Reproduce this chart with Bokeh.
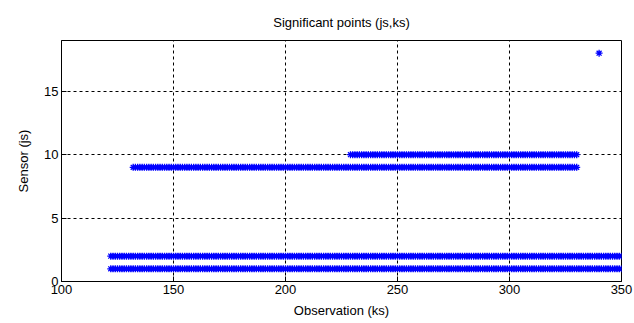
from bokeh.plotting import figure
from bokeh.models import ColumnDataSource, FixedTicker, Range1d
from bokeh.embed import file_html
from bokeh.resources import INLINE

# Significant points: each sensor row (js) is significant over a run of observations (ks)
rows_js = [1, 2, 9, 10, 18]
ks_start = [122, 122, 132, 229, 340]
ks_end = [350, 350, 330, 330, 340]

x_ticks = [100, 150, 200, 250, 300, 350]
y_ticks = [0, 5, 10, 15]

xs, ys = [], []
for js, a, b in zip(rows_js, ks_start, ks_end):
    for k in range(a, b + 1):
        xs.append(k)
        ys.append(js)

src = ColumnDataSource(dict(ks=xs, js=ys))

FONT = "Liberation Sans"

p = figure(width=634, height=323, output_backend="svg", toolbar_location=None,
           x_range=Range1d(100, 350), y_range=Range1d(0, 19),
           title="Significant points (js,ks)",
           min_border_left=61, min_border_right=13, min_border_top=40, min_border_bottom=42)

p.scatter("ks", "js", source=src, marker="asterisk", size=7, line_color="#0000ff",
          line_width=1.3)

p.title.align = "center"
p.title.text_font = FONT
p.title.text_font_size = "13px"
p.title.text_font_style = "normal"
p.title.text_color = "black"
p.title.standoff = 22

p.xaxis.ticker = FixedTicker(ticks=x_ticks)
p.yaxis.ticker = FixedTicker(ticks=y_ticks)
p.xaxis.axis_label = "Observation (ks)"
p.yaxis.axis_label = "Sensor (js)"
for ax in (p.xaxis[0], p.yaxis[0]):
    ax.axis_label_text_font = FONT
    ax.axis_label_text_font_size = "13px"
    ax.axis_label_text_font_style = "normal"
    ax.axis_label_text_color = "black"
    ax.major_label_text_font = FONT
    ax.major_label_text_font_size = "13px"
    ax.major_label_text_color = "black"
    ax.major_label_standoff = 3
    ax.major_tick_in = 5
    ax.major_tick_out = 0
    ax.minor_tick_line_color = None
    ax.axis_line_color = "black"
    ax.major_tick_line_color = "black"
p.xaxis.axis_label_standoff = 6
p.yaxis.axis_label_standoff = 10

p.xgrid.grid_line_color = "black"
p.ygrid.grid_line_color = "black"
p.xgrid.grid_line_dash = "3 3"
p.ygrid.grid_line_dash = "3 3"
p.outline_line_color = "black"
p.background_fill_color = "white"
p.border_fill_color = "white"

open("out.html", "w").write(file_html(p, INLINE))
